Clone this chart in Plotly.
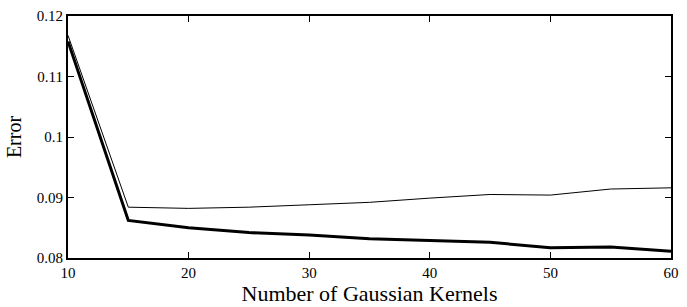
import plotly.graph_objects as go

kernels = [10, 15, 20, 25, 30, 35, 40, 45, 50, 55, 60]
error_thin = [0.1168, 0.0884, 0.0882, 0.0884, 0.0888, 0.0892, 0.0899, 0.0905, 0.0904, 0.0914, 0.0916]
error_thick = [0.1158, 0.0862, 0.0850, 0.0842, 0.0838, 0.0832, 0.0829, 0.0826, 0.0817, 0.0818, 0.0811]

x_ticks = [10, 20, 30, 40, 50, 60]
y_ticks = [0.08, 0.09, 0.1, 0.11, 0.12]
y_tick_labels = ["0.08", "0.09", "0.1", "0.11", "0.12"]

fig = go.Figure()
fig.add_trace(go.Scatter(x=kernels, y=error_thin, mode="lines",
                         line=dict(color="black", width=1)))
fig.add_trace(go.Scatter(x=kernels, y=error_thick, mode="lines",
                         line=dict(color="black", width=3)))

font_family = "Liberation Serif, Times New Roman, serif"
fig.update_layout(
    template="simple_white",
    width=687, height=307,
    margin=dict(l=68, r=8, t=10, b=49),
    paper_bgcolor="white", plot_bgcolor="white",
    showlegend=False,
    font=dict(family=font_family, color="black"),
)
fig.update_xaxes(
    range=[10, 60], tickvals=x_ticks, ticktext=[str(v) for v in x_ticks],
    ticks="inside", ticklen=6, tickcolor="black", tickwidth=1,
    showline=True, linecolor="black", linewidth=2, mirror="ticks",
    showgrid=False, zeroline=False,
    tickfont=dict(size=15, family=font_family),
    title=dict(text="Number of Gaussian Kernels", font=dict(size=22, family=font_family), standoff=2),
)
fig.update_yaxes(
    range=[0.08, 0.12], tickvals=y_ticks, ticktext=y_tick_labels,
    ticks="inside", ticklen=6, tickcolor="black", tickwidth=1,
    showline=True, linecolor="black", linewidth=2, mirror="ticks",
    showgrid=False, zeroline=False,
    tickfont=dict(size=15, family=font_family),
    title=dict(text="Error", font=dict(size=20, family=font_family), standoff=10),
)

fig.write_html("out.html", config={"displayModeBar": False},
               post_script="document.body.style.margin='0';")
